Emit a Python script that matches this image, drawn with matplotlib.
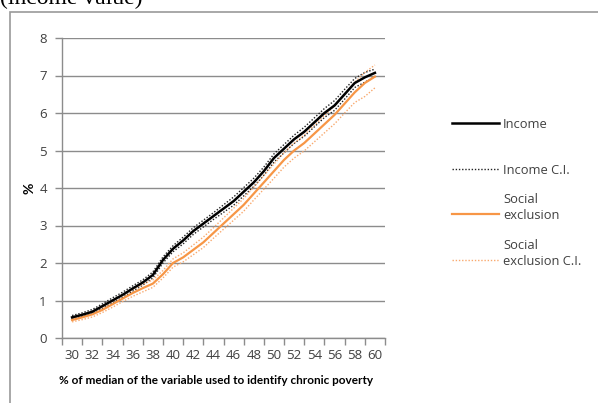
import matplotlib
matplotlib.use("Agg")
import matplotlib.pyplot as plt
from matplotlib.lines import Line2D
from matplotlib.patches import Rectangle

# % of median used as threshold
thresholds = list(range(30, 61))

income = [0.55, 0.62, 0.70, 0.85, 1.00, 1.15, 1.32, 1.48, 1.68, 2.08, 2.38,
          2.60, 2.85, 3.05, 3.25, 3.45, 3.65, 3.90, 4.15, 4.45, 4.80, 5.05,
          5.30, 5.50, 5.75, 6.00, 6.20, 6.50, 6.80, 6.95, 7.07]
income_ci_hi = [0.60, 0.67, 0.76, 0.91, 1.07, 1.22, 1.39, 1.55, 1.76, 2.16, 2.46,
                2.69, 2.94, 3.14, 3.34, 3.55, 3.76, 4.01, 4.26, 4.56, 4.91, 5.16,
                5.41, 5.62, 5.87, 6.12, 6.33, 6.63, 6.92, 7.08, 7.17]
income_ci_lo = [0.50, 0.57, 0.64, 0.79, 0.93, 1.08, 1.25, 1.41, 1.60, 2.00, 2.30,
                2.51, 2.76, 2.96, 3.16, 3.35, 3.54, 3.79, 4.04, 4.34, 4.69, 4.94,
                5.19, 5.38, 5.63, 5.88, 6.07, 6.37, 6.68, 6.82, 6.97]

social = [0.48, 0.55, 0.63, 0.75, 0.90, 1.05, 1.20, 1.33, 1.45, 1.70, 2.00,
          2.15, 2.35, 2.55, 2.80, 3.05, 3.30, 3.55, 3.85, 4.15, 4.45, 4.75,
          5.00, 5.20, 5.45, 5.70, 5.95, 6.25, 6.55, 6.80, 6.97]
social_ci_hi = [0.53, 0.61, 0.70, 0.82, 0.98, 1.13, 1.29, 1.43, 1.55, 1.80, 2.11,
                2.27, 2.48, 2.69, 2.94, 3.20, 3.46, 3.72, 4.02, 4.33, 4.64, 4.94,
                5.20, 5.41, 5.67, 5.93, 6.19, 6.50, 6.82, 7.08, 7.28]
social_ci_lo = [0.43, 0.49, 0.56, 0.68, 0.82, 0.97, 1.11, 1.23, 1.35, 1.60, 1.89,
                2.03, 2.22, 2.41, 2.66, 2.90, 3.14, 3.38, 3.68, 3.97, 4.26, 4.56,
                4.80, 4.99, 5.23, 5.47, 5.71, 6.00, 6.28, 6.44, 6.67]

y_ticks = list(range(0, 9))
x_labels = list(range(30, 61, 2))

W, H = 598, 403
fig = plt.figure(figsize=(W / 100, H / 100), dpi=100)
fig.patch.set_facecolor("white")

FONT = ["Open Sans", "DejaVu Sans"]
TXT = "#404040"
GRID = "#8c8c8c"

# chart frame
fig.add_artist(Rectangle((10 / W, -0.05), 1.0, (H - 12) / H + 0.05,
                         transform=fig.transFigure, fill=False,
                         edgecolor="#9a9a9a", linewidth=1.2))

# caption text above the chart (runs past the top edge)
fig.text(0 / W, 1 - 4 / H, "(income value)", family="Liberation Serif",
         fontsize=17, va="baseline", ha="left", color="black")

ax = fig.add_axes([62 / W, (H - 338) / H, (385 - 62) / W, (338 - 38) / H])

styles = {
    "income": dict(color="black", lw=1.8, ls="-"),
    "income_ci": dict(color="#222222", lw=1.0, ls=(0, (1, 1.3))),
    "social": dict(color="#f79646", lw=1.6, ls="-"),
    "social_ci": dict(color="#f9a96e", lw=1.0, ls=(0, (1, 1.3))),
}

ax.plot(thresholds, income_ci_hi, **styles["income_ci"])
ax.plot(thresholds, income_ci_lo, **styles["income_ci"])
ax.plot(thresholds, social_ci_hi, **styles["social_ci"])
ax.plot(thresholds, social_ci_lo, **styles["social_ci"])
ax.plot(thresholds, social, **styles["social"])
ax.plot(thresholds, income, **styles["income"])

ax.set_xlim(29, 61)
ax.set_ylim(0, 8)
ax.set_yticks(y_ticks)
ax.yaxis.grid(True, color=GRID, lw=1.0)
ax.set_axisbelow(True)

# tick marks between category pairs, labels at even thresholds
ax.set_xticks(list(range(29, 62, 2)))
ax.set_xticklabels([])
ax.set_xticks(x_labels, minor=True)
ax.set_xticklabels([str(v) for v in x_labels], minor=True,
                   family=FONT, fontsize=9.5, color=TXT)
ax.tick_params(axis="x", which="major", length=5, width=1, color=GRID,
               direction="out")
ax.tick_params(axis="x", which="minor", length=0, pad=8)
ax.tick_params(axis="y", length=5, width=1, color=GRID, direction="out",
               labelsize=9.5, labelcolor=TXT, pad=6)
for lab in ax.get_yticklabels():
    lab.set_family(FONT)

for s in ("top", "right"):
    ax.spines[s].set_visible(False)
for s in ("left", "bottom"):
    ax.spines[s].set_color(GRID)
    ax.spines[s].set_linewidth(1.0)

fig.text(30 / W, 1 - 188 / H, "%", family=["Lato", "DejaVu Sans"],
         fontsize=10, fontweight="bold", rotation=90, ha="center",
         va="center", color="black")
fig.text(216 / W, 1 - 381 / H,
         "% of median of the variable used to identify chronic poverty",
         family=["Lato", "DejaVu Sans"], fontsize=8.5, fontweight="bold",
         ha="center", va="center", color="black")

# legend drawn at the right of the plot
entries = [
    (123, "income", "Income"),
    (169, "income_ci", "Income C.I."),
    (214, "social", "Social\nexclusion"),
    (260, "social_ci", "Social\nexclusion C.I."),
]
for ypix, key, label in entries:
    st = styles[key]
    fig.add_artist(Line2D([452 / W, 499 / W], [1 - ypix / H, 1 - ypix / H],
                          transform=fig.transFigure, color=st["color"],
                          lw=st["lw"], ls=st["ls"]))
    fig.text(503 / W, 1 - (ypix + 5) / H, label, family=FONT, fontsize=9.3,
             color=TXT, ha="left", va="baseline", linespacing=1.3)

fig.savefig("out.png", dpi=100)
